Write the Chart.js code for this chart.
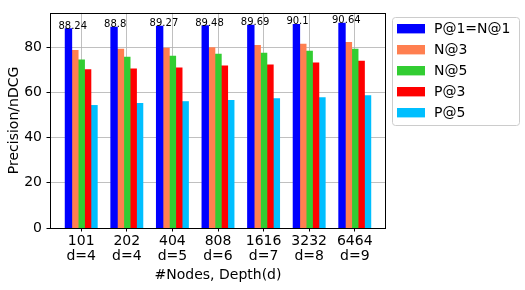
<!DOCTYPE html>
<html><head><meta charset="utf-8">
<script src="https://cdn.jsdelivr.net/npm/chart.js@4"></script>
<style>html,body{margin:0;padding:0;background:#fff}#wrap{width:525px;height:290px}</style>
</head><body><div id="wrap"><canvas id="c" width="525" height="290"></canvas></div>
<script>
const nodes = ['101','202','404','808','1616','3232','6464'];
const depths = ['d=4','d=4','d=5','d=6','d=7','d=8','d=9'];
const p1 = [88.24, 88.8, 89.27, 89.48, 89.69, 90.1, 90.64];
const n3 = [78.6, 79.1, 79.5, 79.8, 80.8, 81.3, 82.1];
const n5 = [74.3, 75.6, 76.0, 76.9, 77.3, 78.2, 79.1];
const p3 = [70.0, 70.4, 70.8, 71.7, 72.1, 73.0, 73.8];
const p5 = [54.2, 55.1, 55.9, 56.4, 57.2, 57.7, 58.5];
const seriesNames = ['P@1=N@1','N@3','N@5','P@3','P@5'];
const seriesColors = ['#0000ff','#ff7f50','#32cd32','#ff0000','#00bfff'];
const yTicks = [0,20,40,60,80];

const FONT = 'DejaVu Sans';
const series = [p1,n3,n5,p3,p5];
const datasets = series.map((arr,k)=>({
  label: seriesNames[k],
  data: arr.map((v,i)=>({x:i,y:v})),
  backgroundColor: seriesColors[k],
  borderWidth: 0,
  inflateAmount: 0.5,
  categoryPercentage: 0.7,
  barPercentage: 1.0
}));

const overlay = {
  id:'overlay',
  afterDatasetsDraw(chart){
    const ctx = chart.ctx, xs = chart.scales.x, ys = chart.scales.y;
    ctx.save();
    ctx.font = '10px "'+FONT+'"';
    ctx.fillStyle = '#000';
    ctx.textAlign = 'left';
    ctx.textBaseline = 'alphabetic';
    p1.forEach((v,i)=>{
      ctx.fillText(String(v), xs.getPixelForValue(i-0.5), ys.getPixelForValue(v));
    });
    ctx.restore();
  },
  afterDraw(chart){
    const ctx = chart.ctx, a = chart.chartArea;
    ctx.save();
    ctx.strokeStyle = '#000';
    ctx.lineWidth = 1;
    ctx.strokeRect(Math.round(a.left)+0.5, Math.round(a.top)+0.5, Math.round(a.right-a.left)-1, Math.round(a.bottom-a.top));
    // legend
    const lx = 392.5, ly = 17.5, lw = 127, lh = 108, r = 3;
    ctx.beginPath();
    ctx.moveTo(lx+r, ly);
    ctx.arcTo(lx+lw, ly, lx+lw, ly+lh, r);
    ctx.arcTo(lx+lw, ly+lh, lx, ly+lh, r);
    ctx.arcTo(lx, ly+lh, lx, ly, r);
    ctx.arcTo(lx, ly, lx+lw, ly, r);
    ctx.closePath();
    ctx.fillStyle = 'rgba(255,255,255,0.8)';
    ctx.fill();
    ctx.strokeStyle = '#cccccc';
    ctx.stroke();
    ctx.font = '14px "'+FONT+'"';
    ctx.textAlign = 'left';
    ctx.textBaseline = 'middle';
    seriesNames.forEach((name,k)=>{
      const cy = 28.7 + k*21;
      ctx.fillStyle = seriesColors[k];
      ctx.fillRect(397, cy-4.7, 28, 9.4);
      ctx.fillStyle = '#000';
      ctx.fillText(name, 434, cy+0.5);
    });
    ctx.restore();
  }
};

new Chart(document.getElementById('c'), {
  type:'bar',
  data:{datasets},
  options:{
    responsive:false,
    animation:false,
    devicePixelRatio:1,
    datasets:{bar:{categoryPercentage:0.7, barPercentage:1.0}},
    layout:{padding:{left:0,right:139,top:10,bottom:0}},
    plugins:{legend:{display:false},tooltip:{enabled:false}},
    scales:{
      x:{
        type:'linear', min:-0.685, max:6.685, z:1, offset:false,
        afterFit(s){ s.height = 62; },
        afterBuildTicks(s){ s.ticks = nodes.map((_,i)=>({value:i})); },
        ticks:{ autoSkip:false, maxRotation:0, padding:2, color:'#000',
          font:{family:FONT,size:14,lineHeight:1.1},
          callback:(v)=>[nodes[v], depths[v]] },
        grid:{ offset:false, color:'#b0b0b0', lineWidth:0.8, tickLength:3.5, tickColor:'#000', tickWidth:1 },
        border:{display:false},
        title:{display:true, text:'#Nodes, Depth(d)', color:'#000', font:{family:FONT,size:14}, padding:{top:0,bottom:6}}
      },
      y:{
        min:0, max:95.2, z:1,
        afterFit(s){ s.width = 50; },
        afterBuildTicks(s){ s.ticks = yTicks.map(v=>({value:v})); },
        ticks:{ padding:4.5, color:'#000', font:{family:FONT,size:14} },
        grid:{ color:'#b0b0b0', lineWidth:0.8, tickLength:3.5, tickColor:'#000', tickWidth:1 },
        border:{display:false},
        title:{display:true, text:'Precision/nDCG', color:'#000', font:{family:FONT,size:14}, padding:{top:5.6,bottom:0}}
      }
    }
  },
  plugins:[overlay]
});
</script></body></html>
